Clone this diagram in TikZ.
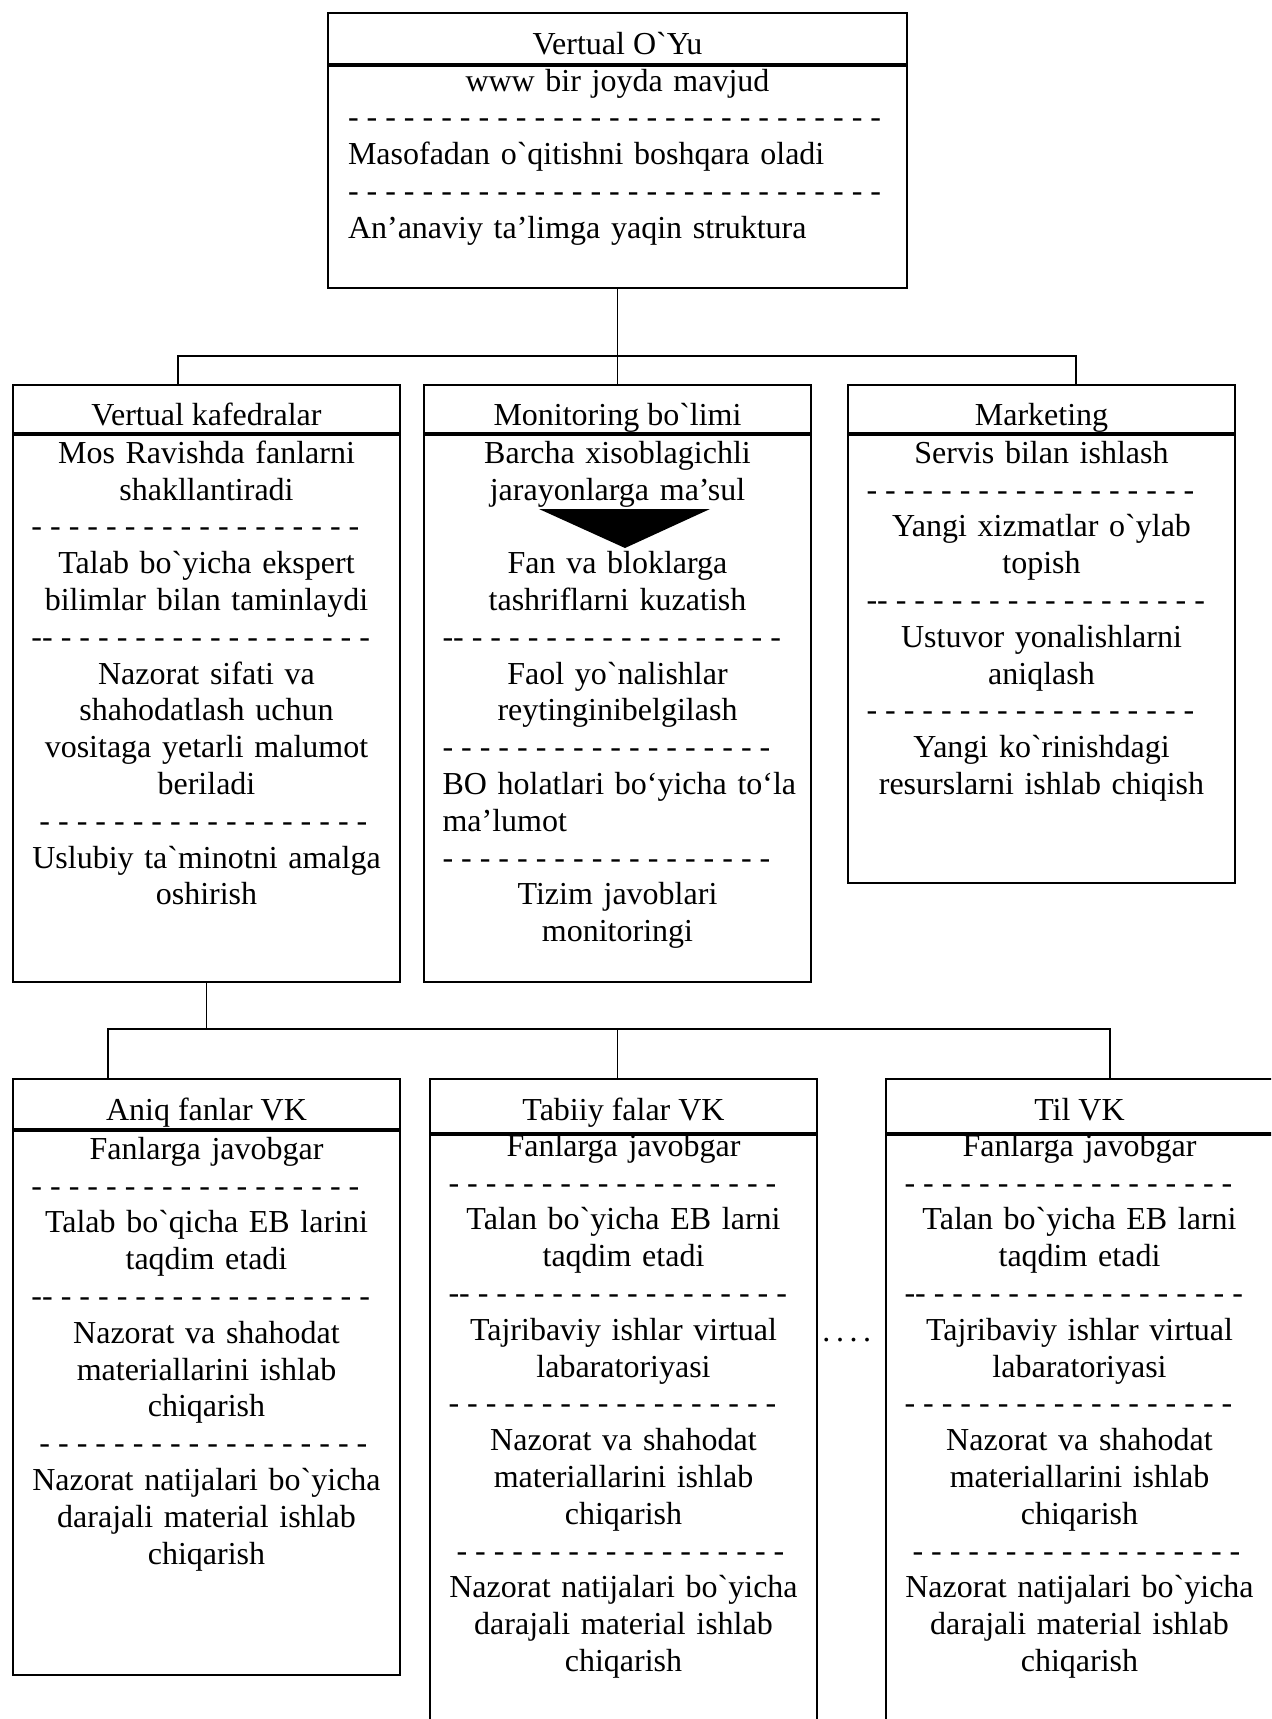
\documentclass[tikz,border=0pt]{standalone}
\usepackage{fontspec}
\setmainfont{Liberation Serif}[Ligatures=TeXOff]
\usepackage{tikz}
\usetikzlibrary{positioning,calc}

\newcommand{\hy}{\makebox[5.33pt][l]{-}}
\newcommand{\dashrow}[2][]{\makebox[\linewidth][l]{#1\foreach \i in {1,...,#2}{\makebox[9.33pt][l]{-}}}}

\begin{document}
\begin{tikzpicture}[x=0.5pt,y=-0.5pt,
  every node/.style={font=\fontsize{16}{18.4}\selectfont},
  head/.style={draw,line width=1pt,anchor=north west,inner sep=0pt,minimum width=193.5pt,minimum height=24pt,text height=16pt,text depth=0pt},
  body/.style={draw,line width=1pt,anchor=north west,inner sep=0pt,minimum width=193.5pt},
  items/.style={anchor=north,inner sep=0pt,text width=175pt,align=center,execute at begin node={\hyphenpenalty 10000\relax\strut}},
  link/.style={line width=0.6pt}]
  \useasboundingbox (0,0) rectangle (1271,1719);
  \clip (0,0) rectangle (1271,1719);

  \node[head,minimum width=289.5pt,minimum height=25.5pt] at (327,12) (vo) {Vertual O`Yu};
  \node[body,minimum width=289.5pt,minimum height=111pt] at (vo.south west) (vob) {};
  \node[items,text width=269.5pt,align=left] at (vob.north) (vot) {\makebox[\linewidth]{www bir joyda mavjud}\\\dashrow{29}\\Masofadan o`qitishni boshqara oladi\\\dashrow{29}\\An’anaviy ta’limga yaqin struktura};

  \node[head] at (12,384) (vk) {Vertual kafedralar};
  \node[body,minimum height=273.5pt] at (vk.south west) (vkb) {};
  \node[items] at ([yshift=-1.6pt]vkb.north) (vkt) {Mos Ravishda fanlarni\\shakllantiradi\\\dashrow{18}\\Talab bo`yicha ekspert\\bilimlar bilan taminlaydi\\\dashrow[\hy]{18}\\Nazorat sifati va\\shahodatlash uchun\\vositaga yetarli malumot\\beriladi\\\dashrow[\hspace*{4pt}]{18}\\Uslubiy ta`minotni amalga\\oshirish};

  \node[head] at (423,384) (mon) {Monitoring bo`limi};
  \node[body,minimum height=273.5pt] at (mon.south west) (monb) {};
  \node[items] at ([yshift=-1.6pt]monb.north) (mont) {Barcha xisoblagichli\\jarayonlarga ma’sul\\\strut\\Fan va bloklarga\\tashriflarni kuzatish\\\dashrow[\hy]{18}\\Faol yo`nalishlar\\reytinginibelgilash\\\dashrow{18}\\\makebox[\linewidth][l]{BO holatlari bo‘yicha to‘la}\\\makebox[\linewidth][l]{ma’lumot}\\\dashrow{18}\\Tizim javoblari\\monitoringi};
  \fill (539,509) -- (710,509) -- (625,548) -- cycle;

  \node[head] at (847,384) (mk) {Marketing};
  \node[body,minimum height=224pt] at (mk.south west) (mkb) {};
  \node[items] at ([yshift=-1.6pt]mkb.north) (mkt) {Servis bilan ishlash\\\dashrow{18}\\Yangi xizmatlar o`ylab\\topish\\\dashrow[\hy]{18}\\Ustuvor yonalishlarni\\aniqlash\\\dashrow{18}\\Yangi ko`rinishdagi\\resurslarni ishlab chiqish};

  \node[head,minimum height=25pt] at (12,1078) (an) {Aniq fanlar VK};
  \node[body,minimum height=272pt] at (an.south west) (anb) {};
  \node[items] at ([yshift=-1.6pt]anb.north) (ant) {Fanlarga javobgar\\\dashrow{18}\\Talab bo`qicha EB larini\\taqdim etadi\\\dashrow[\hy]{18}\\Nazorat va shahodat\\materiallarini ishlab\\chiqarish\\\dashrow[\hspace*{4pt}]{18}\\Nazorat natijalari bo`yicha\\darajali material ishlab\\chiqarish};

  \node[head,minimum height=27pt,text height=14pt] at (429,1078) (tb) {Tabiiy falar VK};
  \node[body,minimum height=310pt] at (tb.south west) (tbb) {};
  \node[items] at ([yshift=1.9pt]tbb.north) (tbt) {Fanlarga javobgar\\\dashrow{18}\\Talan bo`yicha EB larni\\taqdim etadi\\\dashrow[\hy]{18}\\Tajribaviy ishlar virtual\\labaratoriyasi\\\dashrow{18}\\Nazorat va shahodat\\materiallarini ishlab\\chiqarish\\\dashrow[\hspace*{4pt}]{18}\\Nazorat natijalari bo`yicha\\darajali material ishlab\\chiqarish};

  \node[head,minimum height=27pt,text height=14pt] at (885,1078) (til) {Til VK};
  \node[body,minimum height=310pt] at (til.south west) (tilb) {};
  \node[items] at ([yshift=1.9pt]tilb.north) (tilt) {Fanlarga javobgar\\\dashrow{18}\\Talan bo`yicha EB larni\\taqdim etadi\\\dashrow[\hy]{18}\\Tajribaviy ishlar virtual\\labaratoriyasi\\\dashrow{18}\\Nazorat va shahodat\\materiallarini ishlab\\chiqarish\\\dashrow[\hspace*{4pt}]{18}\\Nazorat natijalari bo`yicha\\darajali material ishlab\\chiqarish};

  \node[anchor=base west,inner sep=0pt] at (822,1341) (more) {.\kern2.8pt.\kern2.8pt.\kern2.8pt.};

  \coordinate (j1l) at (178,356);
  \coordinate (j1r) at (1076,356);
  \coordinate (j2l) at (108,1029);
  \coordinate (j2r) at (1110,1029);
  \draw[link] (vob.south) -- (mon.north);
  \draw[link] (j1l |- vk.north) -- (j1l) -- (j1r) -- (j1r |- mk.north);
  \draw[link] (vkb.south) -- (vkb.south |- j2l);
  \draw[link] (j2l |- an.north) -- (j2l) -- (j2r) -- (j2r |- til.north);
  \draw[link] (vob.south |- j2l) -- (vob.south |- tb.north);
\end{tikzpicture}
\end{document}
